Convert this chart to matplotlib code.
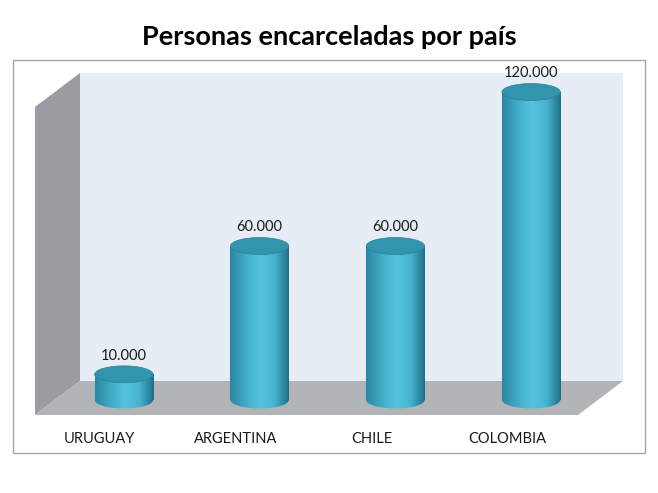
import numpy as np
import matplotlib
matplotlib.use("Agg")
import matplotlib.pyplot as plt
import matplotlib.transforms as mtransforms
from matplotlib.patches import Polygon, Rectangle, Ellipse
from matplotlib.colors import LinearSegmentedColormap

# data
paises = ["URUGUAY", "ARGENTINA", "CHILE", "COLOMBIA"]
personas = [10000, 60000, 60000, 120000]

plt.rcParams['font.family'] = ['Lato', 'DejaVu Sans']

W, H = 658, 493
fig = plt.figure(figsize=(W / 100, H / 100), dpi=100)

# background: frame + 3D walls, in pixel coords
bg = fig.add_axes([0, 0, 1, 1])
bg.set_xlim(0, W)
bg.set_ylim(H, 0)
bg.axis('off')
bg.add_patch(Rectangle((13, 60), 632, 393, facecolor='white', edgecolor='#a6a6a6', lw=1))
bg.add_patch(Polygon([(80, 73), (623, 73), (623, 381), (80, 381)], closed=True,
                     facecolor='#e7edf5', edgecolor='none'))
bg.add_patch(Polygon([(35, 107), (80, 73), (80, 381), (35, 415)], closed=True,
                     facecolor='#9a9ca1', edgecolor='none'))
bg.add_patch(Polygon([(35, 415), (80, 381), (623, 381), (578, 415)], closed=True,
                     facecolor='#b2b4b7', edgecolor='none'))

fig.text(0.5, 1 - 37 / H, "Personas encarceladas por país", ha='center', va='center',
         fontsize=19.5, fontweight='bold', color='black')

# data axes (value 0 sits at pixel row 400, 120000 at row 92)
ymin, ymax = -8000, 130000
ppu = 308 / 120000
bottom_px = 400 + (-ymin) * ppu
height_px = (ymax - ymin) * ppu
ax = fig.add_axes([56 / W, (H - bottom_px) / H, 543 / W, height_px / H])
ax.patch.set_alpha(0)
xmin, xmax = -0.5, len(paises) - 0.5
ax.set_xlim(xmin, xmax)
ax.set_ylim(ymin, ymax)
for s in ax.spines.values():
    s.set_visible(False)
ax.set_yticks([])
ax.set_xticks(range(len(paises)))
ax.set_xticklabels(paises, fontsize=10.5, color='#1a1a1a')
ax.tick_params(axis='x', length=0, pad=8)
shift = mtransforms.ScaledTranslation(-24 / 100, 0, fig.dpi_scale_trans)
for lab in ax.get_xticklabels():
    lab.set_transform(lab.get_transform() + shift)

cmap = LinearSegmentedColormap.from_list('cyl', ['#2a87a1', '#3fa9c4', '#55c3dd', '#47b5d0', '#1f6f86'])
grad = np.linspace(0, 1, 256).reshape(1, -1)

w = 0.43
eh = 6600  # ellipse height in data units

for i, v in enumerate(personas):
    x0 = i - w / 2
    body = Rectangle((x0, 0), w, v, transform=ax.transData)
    base = Ellipse((i, 0), w, eh, transform=ax.transData)
    for clip in (body, base):
        im = ax.imshow(grad, cmap=cmap, aspect='auto', extent=(x0, x0 + w, -eh, v),
                       origin='lower', zorder=2)
        im.set_clip_path(clip)
    ax.add_patch(Ellipse((i, v), w, eh, facecolor='#3394ad', edgecolor='#2b8199', lw=0.5, zorder=3))
    ax.text(i, v + eh / 2 + 1200, f"{v:,}".replace(",", "."), ha='center', va='bottom',
            fontsize=10.5, color='#1a1a1a', zorder=4)

ax.set_xlim(xmin, xmax)
ax.set_ylim(ymin, ymax)

fig.savefig("out.png", dpi=100)
